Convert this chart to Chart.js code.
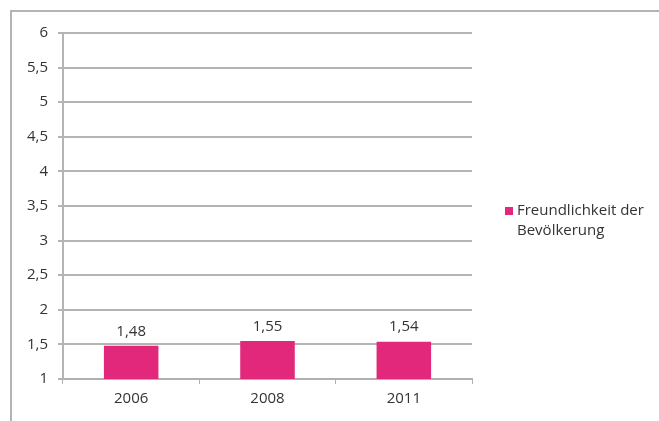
<!DOCTYPE html>
<html>
<head>
<meta charset="utf-8">
<script src="https://cdn.jsdelivr.net/npm/chart.js@4"></script>
<style>
  html, body { margin: 0; padding: 0; background: #fff; }
  #wrap { position: relative; width: 659px; height: 421px; overflow: hidden; }
  #frame { position: absolute; left: 10px; top: 10px; width: 700px; height: 460px;
           border-left: 2px solid #b4b4b4; border-top: 2px solid #b4b4b4; }
  canvas { position: absolute; left: 0; top: 0; }
</style>
</head>
<body>
<div id="wrap">
  <div id="frame"></div>
  <canvas id="chart" width="659" height="421"></canvas>
</div>
<script>
const years = ["2006", "2008", "2011"];
const freundlichkeit = [1.48, 1.55, 1.54];
const seriesLabel = ["Freundlichkeit der", "Bevölkerung"];
const barColor = "#e2287a";
const textColor = "#333333";
const fontFamily = "'Open Sans', sans-serif";
const fontSize = 15;

const fmt = v => String(v).replace(".", ",");

// value labels above bars
const barLabels = {
  id: "barLabels",
  afterDatasetsDraw(chart) {
    const ctx = chart.ctx;
    const meta = chart.getDatasetMeta(0);
    ctx.save();
    ctx.fillStyle = textColor;
    ctx.font = fontSize + "px " + fontFamily;
    ctx.textAlign = "center";
    ctx.textBaseline = "bottom";
    meta.data.forEach((bar, i) => {
      ctx.fillText(fmt(chart.data.datasets[0].data[i].toFixed(2)), bar.x, bar.y - 7);
    });
    ctx.restore();
  }
};

// legend on the right, two lines
const sideLegend = {
  id: "sideLegend",
  afterDraw(chart) {
    const ctx = chart.ctx;
    const ds = chart.data.datasets[0];
    ctx.save();
    ctx.fillStyle = ds.backgroundColor;
    ctx.fillRect(505, 207, 8, 8);
    ctx.fillStyle = textColor;
    ctx.font = fontSize + "px " + fontFamily;
    ctx.textBaseline = "middle";
    ds.label.forEach((line, i) => {
      ctx.fillText(line, 517, 211 + i * 20);
    });
    ctx.restore();
  }
};

new Chart(document.getElementById("chart"), {
  type: "bar",
  data: {
    labels: years,
    datasets: [{
      label: seriesLabel,
      data: freundlichkeit,
      backgroundColor: barColor,
      barPercentage: 0.4,
      categoryPercentage: 1.0
    }]
  },
  options: {
    responsive: false,
    animation: false,
    layout: { padding: { left: 0, right: 187, top: 33, bottom: 0 } },
    plugins: { legend: { display: false }, tooltip: { enabled: false } },
    scales: {
      x: {
        offset: true,
        grid: { offset: true, drawOnChartArea: false, tickLength: 5, color: "#b0b0b0" },
        border: { color: "#b0b0b0", width: 2 },
        ticks: { color: textColor, font: { family: fontFamily, size: fontSize }, padding: 6 },
        afterFit(scale) { scale.height = 42; }
      },
      y: {
        min: 1,
        max: 6,
        ticks: {
          stepSize: 0.5,
          color: textColor,
          font: { family: fontFamily, size: fontSize },
          padding: 10,
          callback: v => fmt(v)
        },
        grid: { color: "#b4b4b4", lineWidth: 2, tickLength: 5 },
        border: { color: "#b4b4b4", width: 2 },
        afterFit(scale) { scale.width = 63; }
      }
    }
  },
  plugins: [barLabels, sideLegend]
});
</script>
</body>
</html>
